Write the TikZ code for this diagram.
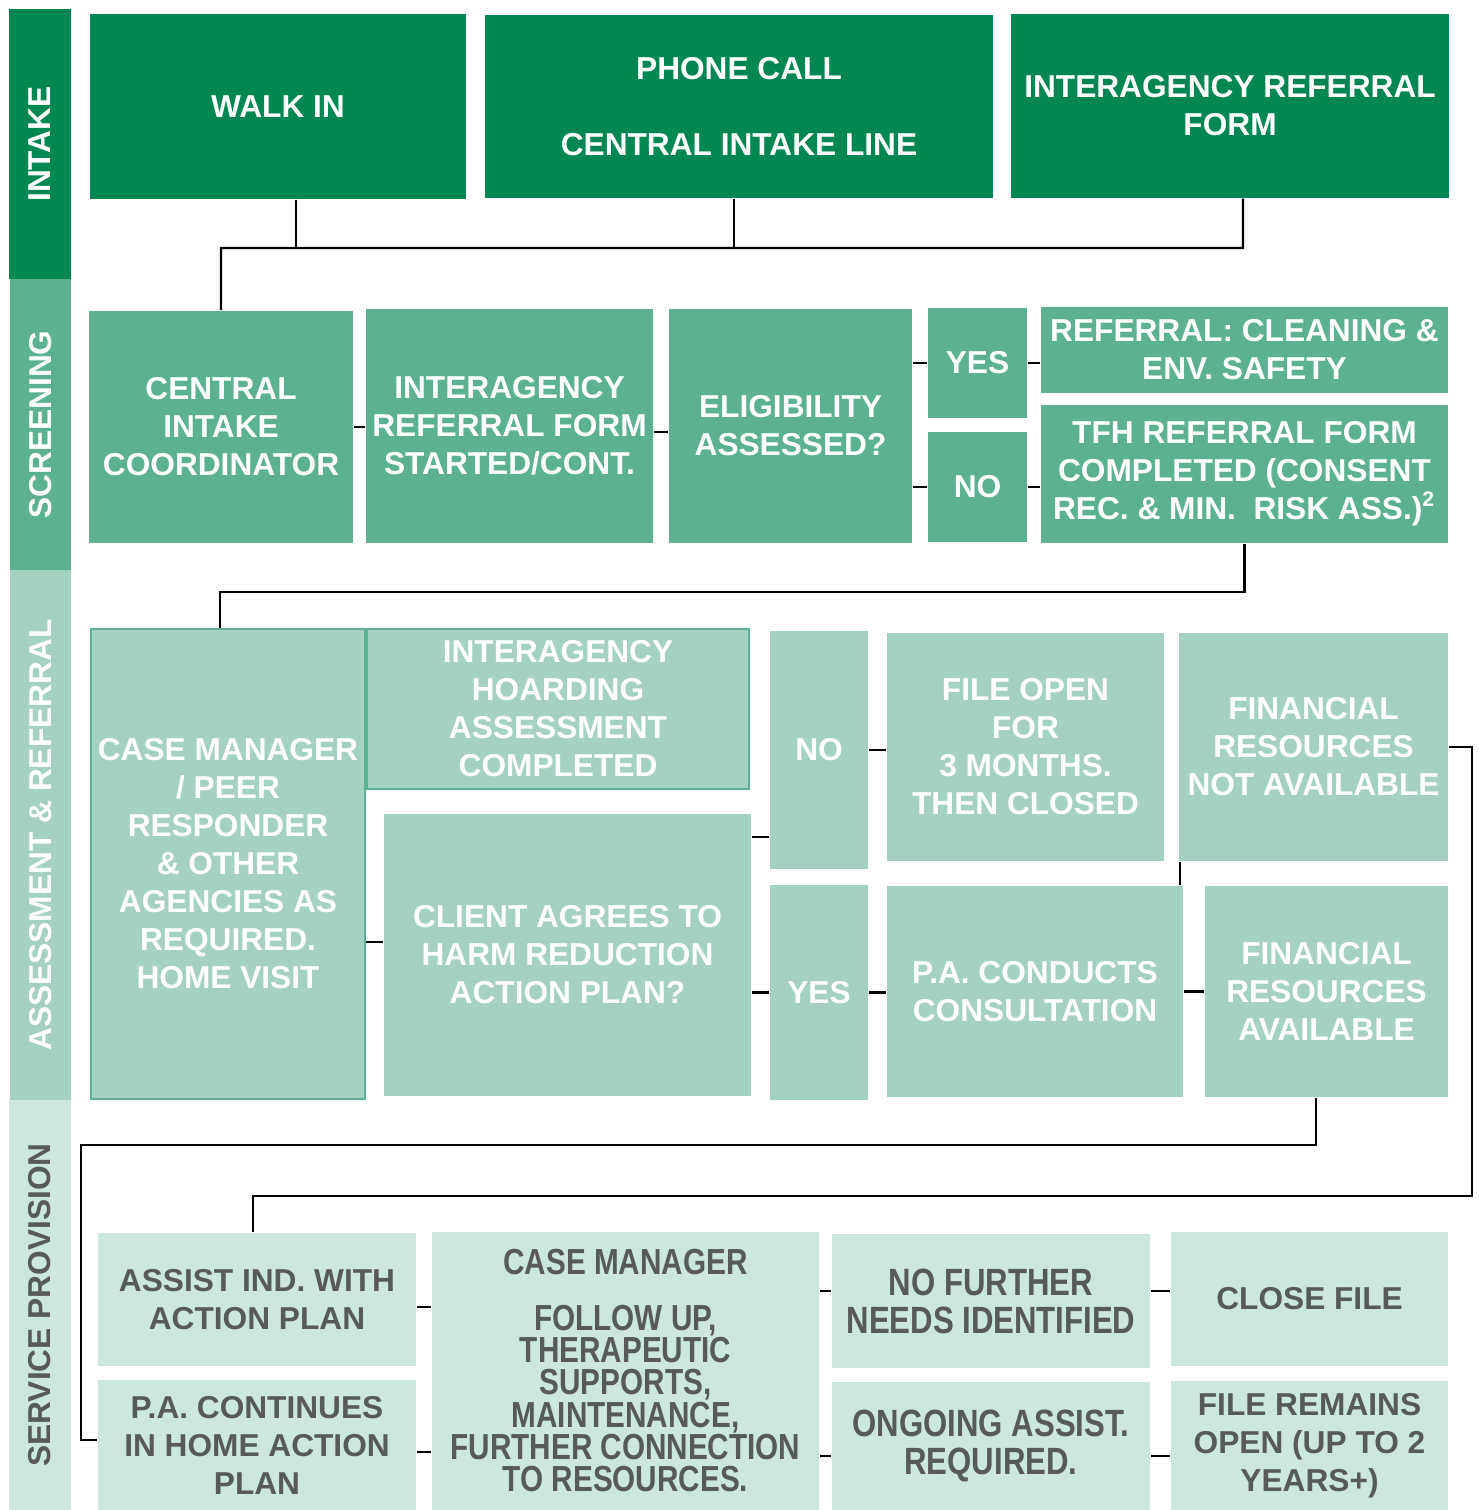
\documentclass[tikz,border=0pt]{standalone}
\usepackage{fontspec}
\setmainfont{Liberation Sans}
\newfontfamily\narrowsf{Liberation Sans}[FakeStretch=0.82]
\usetikzlibrary{calc}

\definecolor{gDark}{HTML}{038752}
\definecolor{gMid}{HTML}{5CB290}
\definecolor{gLight}{HTML}{A4D1C0}
\definecolor{gPale}{HTML}{CCE7DD}
\definecolor{txtGray}{HTML}{58595B}

\begin{document}
\begin{tikzpicture}[x=0.01cm, y=-0.01cm,
  every node/.style={font=\fontsize{9}{10.8}\selectfont\bfseries},
  box/.style={rectangle, inner sep=0pt, align=center},
  wh/.style 2 args={minimum width=#1cm, minimum height=#2cm},
  band/.style={box, rotate=90},
  intake/.style={box, fill=gDark, text=white},
  screen/.style={box, fill=gMid, text=white},
  assess/.style={box, fill=gLight, text=white},
  service/.style={box, fill=gPale, text=txtGray},
  narrow/.style={font=\narrowsf\fontsize{10.8}{10.8}\selectfont\bfseries},
  conn/.style={draw=black, line width=0.65pt}]

  \useasboundingbox (0,0) rectangle (1478,1510);

  % stage bands on the left
  \node[band, fill=gDark, text=white, wh={2.70}{0.62}] (sIntake) at (40,144) {INTAKE};
  \node[band, fill=gMid, text=white, wh={2.91}{0.61}] (sScreen) at (40.5,424.5) {SCREENING};
  \node[band, fill=gLight, text=white, wh={5.30}{0.61}] (sAssess) at (40.5,835) {ASSESSMENT \& REFERRAL};
  \node[band, fill=gPale, text=txtGray, wh={4.10}{0.62}] (sService) at (40,1305) {SERVICE PROVISION};

  % intake
  \node[intake, wh={3.76}{1.85}] (walk) at (278,106.5) {WALK IN};
  \node[intake, wh={5.08}{1.83}] (phone) at (739,106.5) {PHONE CALL\\[11pt]CENTRAL INTAKE LINE};
  \node[intake, wh={4.38}{1.84}] (iarf) at (1230,106) {INTERAGENCY REFERRAL\\FORM};

  % screening
  \node[screen, wh={2.64}{2.32}] (cic) at (221,427) {CENTRAL\\INTAKE\\COORDINATOR};
  \node[screen, wh={2.87}{2.34}] (irf) at (509.5,426) {INTERAGENCY\\REFERRAL FORM\\STARTED/CONT.};
  \node[screen, wh={2.43}{2.34}] (elig) at (790.5,426) {ELIGIBILITY\\ASSESSED?};
  \node[screen, wh={0.99}{1.10}] (yes) at (977.5,363) {YES};
  \node[screen, wh={0.99}{1.10}] (no) at (977.5,487) {NO};
  \node[screen, wh={4.07}{0.86}] (ref) at (1244.5,350) {REFERRAL: CLEANING \&\\ENV. SAFETY};
  \node[screen, wh={4.07}{1.38}] (tfh) at (1244.5,474) {TFH REFERRAL FORM\\COMPLETED (CONSENT\\REC. \& MIN.~ RISK ASS.)\textsuperscript{2}};

  % assessment and referral
  \node[assess, draw=gMid, line width=0.6pt, wh={2.74}{4.70}] (cm) at (228,864) {CASE MANAGER\\/ PEER\\RESPONDER\\\& OTHER\\AGENCIES AS\\REQUIRED.\\HOME VISIT};
  \node[assess, draw=gMid, line width=0.6pt, wh={3.82}{1.60}] (iha) at (558,709) {INTERAGENCY\\HOARDING\\ASSESSMENT\\COMPLETED};
  \node[assess, wh={3.67}{2.82}] (client) at (567.5,955) {CLIENT AGREES TO\\HARM REDUCTION\\ACTION PLAN?};
  \node[assess, wh={0.98}{2.38}] (no2) at (819,750) {NO};
  \node[assess, wh={0.98}{2.15}] (yes2) at (819,992.5) {YES};
  \node[assess, wh={2.77}{2.28}] (fopen) at (1025.5,747) {FILE OPEN\\FOR\\3 MONTHS.\\THEN CLOSED};
  \node[assess, wh={2.69}{2.28}] (frna) at (1313.5,747) {FINANCIAL\\RESOURCES\\NOT AVAILABLE};
  \node[assess, wh={2.96}{2.11}] (pa) at (1035,991.5) {P.A. CONDUCTS\\CONSULTATION};
  \node[assess, wh={2.43}{2.11}] (fra) at (1326.5,991.5) {FINANCIAL\\RESOURCES\\AVAILABLE};

  % service provision
  \node[service, wh={3.18}{1.33}] (assist) at (257,1299.5) {ASSIST IND. WITH\\ACTION PLAN};
  \node[service, wh={3.18}{1.30}] (pacont) at (257,1445) {P.A. CONTINUES\\IN HOME ACTION\\PLAN};
  \node[service, font=\narrowsf\fontsize{10.3}{9.2}\selectfont\bfseries, wh={3.87}{2.78}] (cmf) at (625.5,1371)
    {CASE MANAGER\\[6.5pt]FOLLOW UP,\\THERAPEUTIC\\SUPPORTS,\\MAINTENANCE,\\FURTHER CONNECTION\\TO RESOURCES.};
  \node[service, narrow, wh={3.18}{1.34}] (nofur) at (991,1301) {NO FURTHER\\NEEDS IDENTIFIED};
  \node[service, narrow, wh={3.18}{1.28}] (ongo) at (991,1446) {ONGOING ASSIST.\\REQUIRED.};
  \node[service, wh={2.77}{1.34}] (close) at (1309.5,1299) {CLOSE FILE};
  \node[service, wh={2.77}{1.29}] (remains) at (1309.5,1445.5) {FILE REMAINS\\OPEN (UP TO 2\\YEARS+)};

  % junctions
  \coordinate (jIn) at (221,248);
  \coordinate (jInR) at (1243,248);
  \coordinate (jAs) at (220,592);
  \coordinate (jR1) at (1472,1196);
  \coordinate (jL1) at (253,1196);
  \coordinate (jR2) at (1316,1145);
  \coordinate (jL2) at (81,1145);

  % intake -> screening
  \draw[conn] (cic.north) -- (jIn) -- (jInR) -- ([xshift=.13cm]iarf.south);
  \draw[conn] ([xshift=.18cm]walk.south) -- ([xshift=.18cm]walk.south |- jIn);
  \draw[conn] ([xshift=-.05cm]phone.south) -- ([xshift=-.05cm]phone.south |- jIn);

  % screening
  \draw[conn] (cic.east) -- (cic.east -| irf.west);
  \draw[conn] ([yshift=-.06cm]irf.east) -- ([yshift=-.06cm]irf.east -| elig.west);
  \draw[conn] (yes.west) -- (yes.west -| elig.east);
  \draw[conn] (no.west) -- (no.west -| elig.east);
  \draw[conn] (yes.east) -- (yes.east -| ref.west);
  \draw[conn] (no.east) -- (no.east -| tfh.west);
  \draw[conn] (tfh.south) |- (jAs) -- (jAs |- cm.north);

  % assessment
  \draw[conn] ([yshift=.13cm]client.west) -- ([yshift=.13cm]client.west -| cm.east);
  \draw[conn] ([yshift=1.18cm]client.east) -- ([yshift=1.18cm]client.east -| no2.west);
  \draw[conn] (yes2.west) -- (yes2.west -| client.east);
  \draw[conn] (no2.east) -- (no2.east -| fopen.west);
  \draw[conn] (yes2.east) -- (yes2.east -| pa.west);
  \draw[conn] (pa.east) -- (pa.east -| fra.west);
  \draw[conn] ([xshift=.02cm]frna.south west) -- ([xshift=.02cm]frna.south west |- pa.north);
  \draw[conn] (frna.east) -| (jR1) -- (jL1) -- (jL1 |- assist.north);
  \draw[conn] (jR2 |- fra.south) -- (jR2) -- (jL2) |- ([yshift=.05cm]pacont.west);

  % service provision
  \draw[conn] ([yshift=-.075cm]assist.east) -- ([yshift=-.075cm]assist.east -| cmf.west);
  \draw[conn] ([yshift=-.07cm]pacont.east) -- ([yshift=-.07cm]pacont.east -| cmf.west);
  \draw[conn] ([yshift=.1cm]nofur.west) -- ([yshift=.1cm]nofur.west -| cmf.east);
  \draw[conn] ([yshift=-.1cm]ongo.west) -- ([yshift=-.1cm]ongo.west -| cmf.east);
  \draw[conn] ([yshift=.1cm]nofur.east) -- ([yshift=.1cm]nofur.east -| close.west);
  \draw[conn] ([yshift=-.1cm]ongo.east) -- ([yshift=-.1cm]ongo.east -| remains.west);
\end{tikzpicture}
\end{document}
